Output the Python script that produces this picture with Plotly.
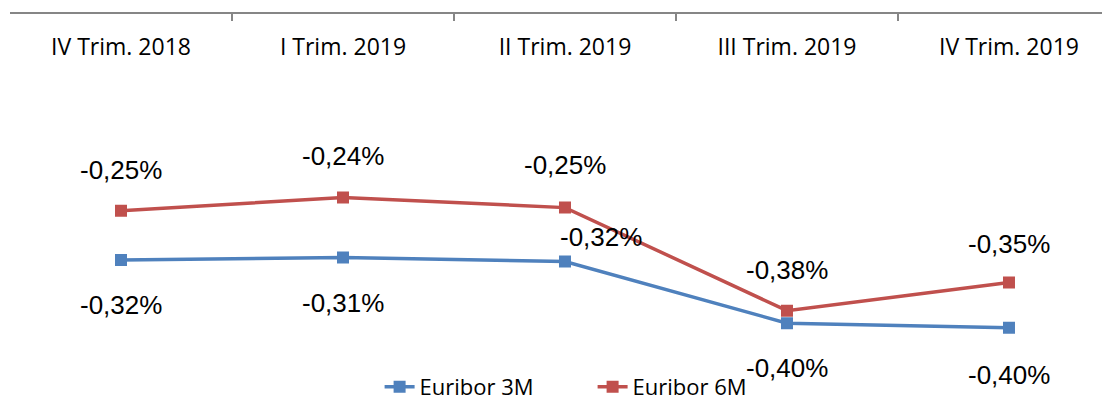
import plotly.graph_objects as go

categories = ["IV Trim. 2018", "I Trim. 2019", "II Trim. 2019", "III Trim. 2019", "IV Trim. 2019"]
euribor_3m = [-0.315, -0.312, -0.317, -0.396, -0.402]
euribor_6m = [-0.252, -0.235, -0.248, -0.380, -0.344]
labels_3m = ["-0,32%", "-0,31%", "-0,32%", "-0,40%", "-0,40%"]
labels_6m = ["-0,25%", "-0,24%", "-0,25%", "-0,38%", "-0,35%"]

BLUE = "#4F81BD"
RED = "#C0504D"

# label offsets (pixels) relative to each point
shift_3m = [(0, -45), (0, -45), (36, 24), (0, -45), (0, -47)]
shift_6m = [(0, 41), (0, 41), (0, 43), (0, 41), (0, 39)]

fig = go.Figure()
fig.add_trace(go.Scatter(
    x=categories, y=euribor_3m, name="Euribor 3M", mode="lines+markers",
    line=dict(color=BLUE, width=3.5),
    marker=dict(symbol="square", size=12, color=BLUE),
))
fig.add_trace(go.Scatter(
    x=categories, y=euribor_6m, name="Euribor 6M", mode="lines+markers",
    line=dict(color=RED, width=3.5),
    marker=dict(symbol="square", size=12, color=RED),
))

label_font = dict(family="Liberation Sans, Arial, sans-serif", size=26, color="#000000")
for cat, v, t, (dx, dy) in zip(categories, euribor_3m, labels_3m, shift_3m):
    fig.add_annotation(x=cat, y=v, text=t, showarrow=False, xshift=dx, yshift=dy, font=label_font)
for cat, v, t, (dx, dy) in zip(categories, euribor_6m, labels_6m, shift_6m):
    fig.add_annotation(x=cat, y=v, text=t, showarrow=False, xshift=dx, yshift=dy, font=label_font)

# page body adds an 8px offset, so the figure is sized to fill the rest of the window
fig.update_layout(
    width=1102, height=393,
    margin=dict(l=2, r=0, t=6, b=35),
    paper_bgcolor="white", plot_bgcolor="white",
    showlegend=True,
    legend=dict(
        orientation="h", x=0.336, xanchor="left",
        yref="container", y=0.036, yanchor="middle",
        font=dict(family="Open Sans, sans-serif", size=22, color="#000000"),
        entrywidth=168, entrywidthmode="pixels", bgcolor="rgba(0,0,0,0)",
    ),
    xaxis=dict(
        type="category", side="top", range=[-0.5, 4.455], automargin=False,
        showline=True, linecolor="#868686", linewidth=2,
        ticks="inside", tickson="boundaries", ticklen=7, tickcolor="#868686", tickwidth=2,
        ticklabelposition="inside", ticklabelstandoff=20,
        tickfont=dict(family="Open Sans, sans-serif", size=23, color="#000000"),
        showgrid=False, zeroline=False, fixedrange=True,
    ),
    yaxis=dict(range=[-0.4507, 0], visible=False, showgrid=False, zeroline=False, automargin=False),
)

fig.write_html("out.html")
